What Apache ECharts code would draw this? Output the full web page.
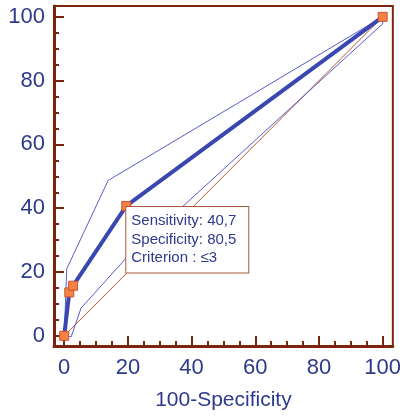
<!DOCTYPE html>
<html><head><meta charset="utf-8">
<script src="https://cdn.jsdelivr.net/npm/echarts@6/dist/echarts.min.js"></script>
<style>html,body{margin:0;padding:0;background:#fff}#c{width:404px;height:419px}</style>
</head><body><div id="c"></div>
<script>
// ROC curve (100-Specificity, Sensitivity)
const rocX = [0, 1.6, 2.8, 19.5, 100];
const rocY = [0, 13.6, 15.7, 40.7, 100];
// confidence bounds
const upperX = [0, 0.8, 13.8, 100];
const upperY = [0, 21, 48.7, 100];
const lowerX = [0, 2.2, 5.3, 19.5, 100, 100];
const lowerY = [0, -0.3, 8.7, 24.4, 97.8, 100];
// reference diagonal
const diagX = [0, 100];
const diagY = [0, 100];
// ticks
const majorTicks = [0, 20, 40, 60, 80, 100];
const minorTicks = [0, 5, 10, 15, 20, 25, 30, 35, 40, 45, 50, 55, 60, 65, 70, 75, 80, 85, 90, 95, 100];
const cutoffIndex = 3;
const annotation = ['Sensitivity: 40,7', 'Specificity: 80,5', 'Criterion : \u22643'];
const xName = '100-Specificity';

const zip = (a, b) => a.map((v, i) => [v, b[i]]);
const AX = '#7B2410';
const TX = '#2D3A8C';
const FF = '"Liberation Sans", Arial, sans-serif';

function axes(dim) {
  const isX = dim === 'x';
  const base = {
    type: 'value',
    min: isX ? -3.2 : -3.2,
    max: isX ? 103.2 : 103.4,
    splitLine: { show: false },
  };
  return [
    Object.assign({}, base, {
      position: isX ? 'bottom' : 'left',
      axisLine: { show: true, onZero: false, lineStyle: { color: AX, width: 3 } },
      axisTick: { show: true, inside: true, length: 10, customValues: majorTicks, lineStyle: { color: AX, width: 2 } },
      axisLabel: { show: true, customValues: majorTicks, fontSize: 22, color: TX, fontFamily: FF, margin: isX ? 11 : 9 },
      name: isX ? xName : '',
      nameLocation: 'middle',
      nameGap: 44,
      nameTextStyle: { fontSize: 21, color: TX, fontFamily: FF }
    }),
    Object.assign({}, base, {
      position: isX ? 'bottom' : 'left',
      axisLine: { show: false, onZero: false },
      axisTick: { show: true, inside: true, length: 5, customValues: minorTicks, lineStyle: { color: AX, width: 2 } },
      axisLabel: { show: false }
    })
  ];
}

const rocData = zip(rocX, rocY).map((p, i) => i === cutoffIndex ? {
  value: p,
  label: {
    show: true,
    position: [5, 6],
    formatter: annotation.join('\n'),
    color: TX,
    fontSize: 15,
    lineHeight: 18.5,
    fontFamily: FF,
    backgroundColor: '#fff',
    borderColor: '#A85A3A',
    borderWidth: 1,
    padding: [5, 6, 5, 5],
    width: 111,
    align: 'left',
    verticalAlign: 'top'
  }
} : { value: p });

const chart = echarts.init(document.getElementById('c'));
chart.setOption({
  animation: false,
  backgroundColor: '#fff',
  grid: { left: 54, right: 9, top: 6, bottom: 73, show: true, borderColor: AX, borderWidth: 2, backgroundColor: 'transparent' },
  xAxis: axes('x'),
  yAxis: axes('y'),
  series: [
    { type: 'line', data: zip(diagX, diagY), symbol: 'none', lineStyle: { color: '#B85A2E', width: 1 }, silent: true, z: 1 },
    { type: 'line', data: zip(upperX, upperY), symbol: 'none', lineStyle: { color: '#5B5BD0', width: 1 }, silent: true, z: 2 },
    { type: 'line', data: zip(lowerX, lowerY), symbol: 'none', lineStyle: { color: '#5B5BD0', width: 1 }, silent: true, z: 2 },
    { type: 'line', data: rocData, symbol: 'rect', symbolSize: 9, showSymbol: true,
      lineStyle: { color: '#3A47B0', width: 4 },
      itemStyle: { color: '#F7823F', borderColor: '#C4553A', borderWidth: 1 }, z: 3 }
  ]
});
</script></body></html>
